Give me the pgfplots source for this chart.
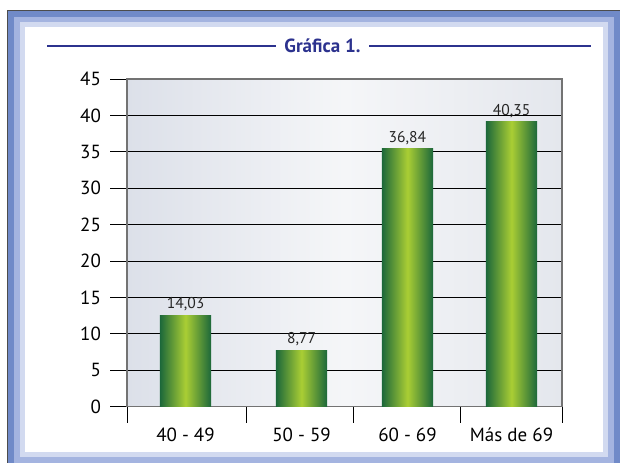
\documentclass[border=0pt]{standalone}
\usepackage{fontspec}
\setmainfont{PT Sans}
\usepackage{pgfplots}
\pgfplotsset{compat=1.18}
\definecolor{navy}{RGB}{44,50,142}
\definecolor{gdark}{RGB}{28,104,58}
\definecolor{glight}{RGB}{170,206,52}
\definecolor{bdark}{RGB}{112,138,200}
\definecolor{bmid}{RGB}{164,180,224}
\definecolor{blight}{RGB}{210,218,240}
\definecolor{bgl}{RGB}{220,224,233}
\definecolor{bgm}{RGB}{245,246,248}
\definecolor{bgr}{RGB}{228,231,237}
\pgfplotstableread{
x y lab
0.538 12.5 14,03
1.605 7.7 8,77
2.579 35.4 36,84
3.536 39.1 40,35
}\datatab
\begin{document}
\begin{tikzpicture}[x=0.5pt,y=0.5pt]
\useasboundingbox (0,0) rectangle (620,462);
\begin{scope}
\clip (0,0) rectangle (620,462);
\fill[white] (0,0) rectangle (620,462);
\fill[bdark] (7,-10) rectangle (630,452);
\draw[black!70, line width=0.5pt] (7,-10) -- (7,452) -- (630,452);
\fill[bmid] (14,-10) rectangle (614,445);
\fill[blight] (20,5) rectangle (608,440);
\fill[white] (25,10) rectangle (603,435);
\end{scope}
% title
\draw[navy, line width=1pt] (47,416) -- (276,416);
\draw[navy, line width=1pt] (369,416) -- (591,416);
\node[navy, font=\bfseries\fontsize{9.5}{11}\selectfont] at (322.5,416) {Gráfica 1.};
\begin{axis}[
  at={(63.5pt,27.65pt)}, anchor=south west,
  scale only axis, width=217.5pt, height=163.85pt,
  xmin=0, xmax=4, ymin=0, ymax=45,
  ybar, bar width=0.47,
  ytick={0,5,...,45},
  ymajorgrids, grid style={black, line width=0.5pt},
  tick pos=left, tick align=outside, major tick length=8.5pt,
  minor tick length=8pt,
  ytick style={black, line width=0.5pt},
  xtick={0.538,1.605,2.579,3.536},
  xticklabels={40 - 49, 50 - 59, 60 - 69, Más de 69},
  every major x tick/.append style={draw=none},
  minor xtick={0,1.103,2.087,3.062,4},
  every minor x tick/.append style={draw=black, line width=0.5pt},
  axis line style={draw=black!55, line width=0.6pt},
  axis background/.style={left color=bgl, right color=bgr, middle color=bgm},
  /pgf/number format/assume math mode=true,
  ticklabel style={font=\fontsize{9.5}{11}\selectfont, text=black},
  xticklabel style={yshift=1.5pt},
  yticklabel style={xshift=-1pt},
  nodes near coords, point meta=explicit symbolic,
  every node near coord/.append style={font=\fontsize{7.8}{9}\selectfont, text=black!85, inner sep=2pt},
  barstyle/.style={bar shift=0pt, draw=none, left color=gdark, right color=gdark, middle color=glight},
]
\addplot[barstyle] table[meta=lab, skip coords between index={1}{4}] {\datatab};
\addplot[barstyle] table[meta=lab, skip coords between index={0}{1}, skip coords between index={2}{4}] {\datatab};
\addplot[barstyle] table[meta=lab, skip coords between index={0}{2}, skip coords between index={3}{4}] {\datatab};
\addplot[barstyle] table[meta=lab, skip coords between index={0}{3}] {\datatab};
\end{axis}
\end{tikzpicture}
\end{document}
